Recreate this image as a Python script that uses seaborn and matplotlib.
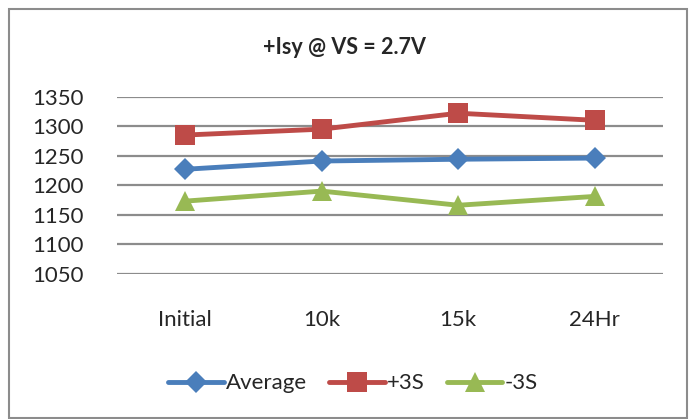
import pandas as pd
import matplotlib.pyplot as plt
import seaborn as sns
from matplotlib.patches import Rectangle

# data
stages = ['Initial', '10k', '15k', '24Hr']
average = [1227, 1241, 1244, 1246]
plus3s = [1285, 1295, 1322, 1310]
minus3s = [1173, 1190, 1166, 1181]

df = pd.DataFrame({'stage': stages * 3,
                   'value': average + plus3s + minus3s,
                   'series': ['Average'] * 4 + ['+3S'] * 4 + ['-3S'] * 4})

sns.set_style('white')
plt.rcParams['font.family'] = ['Lato', 'DejaVu Sans']

fig = plt.figure(figsize=(6.89, 4.19), dpi=100)
ax = fig.add_axes([117 / 689, 1 - 273.7 / 419, 546 / 689, 177 / 419])

colors = {'Average': '#4A7EBB', '+3S': '#BE4B48', '-3S': '#98B954'}
markers = {'Average': 'D', '+3S': 's', '-3S': '^'}
sizes = {'Average': 11, '+3S': 14, '-3S': 15}

for name in ['Average', '+3S', '-3S']:
    sub = df[df['series'] == name]
    sns.lineplot(data=sub, x='stage', y='value', ax=ax, color=colors[name],
                 marker=markers[name], markersize=sizes[name], markeredgewidth=0,
                 linewidth=3.5, label=name, sort=False)

ax.set_xlim(-0.5, 3.5)
ax.set_ylim(1050, 1350)
ax.set_yticks(range(1050, 1351, 50))
ax.yaxis.grid(True, color='#8C8C8C', linewidth=1.6)
ax.set_axisbelow(True)
for s in ax.spines.values():
    s.set_visible(False)
ax.set_xlabel('')
ax.set_ylabel('')
ax.tick_params(axis='y', labelsize=16, length=0, pad=24)
ax.tick_params(axis='x', labelsize=16, length=0, pad=26)

ax.legend(loc='center', bbox_to_anchor=(0.432, -0.62), ncol=3, frameon=False,
          fontsize=16, handlelength=2.5, columnspacing=1.0, handletextpad=0.1)

fig.text(0.5, 1 - 48 / 419, '+Isy @ VS = 2.7V', ha='center', va='center',
         fontsize=15.5, fontweight='bold')

fig.patches.append(Rectangle((9 / 689, 0.002), 678 / 689, 1 - 9 / 419 - 0.002,
                             transform=fig.transFigure, fill=False,
                             edgecolor='#8C8C8C', linewidth=1.5))

fig.savefig('out.png', dpi=100)
